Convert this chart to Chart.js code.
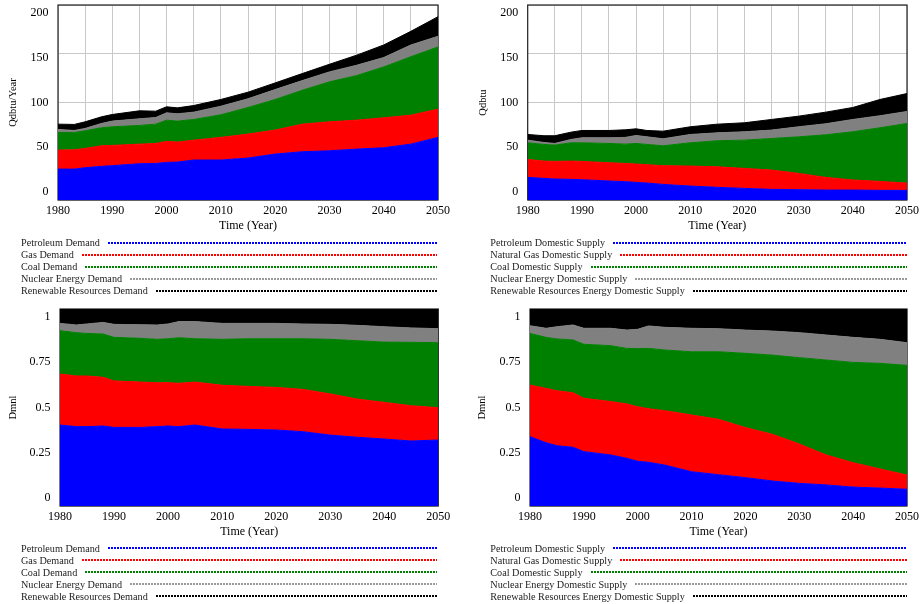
<!DOCTYPE html>
<html>
<head>
<meta charset="utf-8">
<script src="https://cdn.jsdelivr.net/npm/chart.js@4.4.1/dist/chart.umd.min.js"></script>
<style>
  body { margin: 0; background: #fff; }
  #wrap { position: relative; width: 923px; height: 604px; overflow: hidden; font-family: "Liberation Serif", "Times New Roman", serif; }
  canvas { position: absolute; }
  .legend { position: absolute; font-size: 10.2px; color: #222; }
  .row { display: flex; align-items: center; height: 12px; white-space: nowrap; }
  .dots { flex: 1; height: 2px; margin-left: 8px; }
</style>
</head>
<body>
<div id="wrap">
  <canvas id="c1" width="461" height="240" style="left:0;top:0"></canvas>
  <canvas id="c2" width="462" height="240" style="left:461px;top:0"></canvas>
  <canvas id="c3" width="461" height="304" style="left:0;top:300px"></canvas>
  <canvas id="c4" width="462" height="304" style="left:461px;top:300px"></canvas>
  <div class="legend" id="lg1" style="left:21px;top:236.7px;width:416px"></div>
  <div class="legend" id="lg2" style="left:490.3px;top:236.7px;width:416.7px"></div>
  <div class="legend" id="lg3" style="left:21px;top:542.3px;width:416px"></div>
  <div class="legend" id="lg4" style="left:490.3px;top:542.3px;width:416.7px"></div>
</div>
<script>
const years = [1980, 1983, 1985, 1988, 1990, 1995, 1998, 2000, 2002, 2005, 2010, 2015, 2020, 2025, 2030, 2035, 2040, 2045, 2050];

// Qdbtu/Year
const petroleumDemand = [31.7, 31.7, 33.1, 34.5, 35.2, 37.2, 37.5, 38.6, 38.9, 41.0, 41.0, 43.0, 47.1, 49.5, 50.5, 52.2, 53.6, 57.3, 64.2];
const gasDemand       = [19.5, 19.8, 19.8, 21.1, 20.8, 20.1, 20.5, 21.5, 20.5, 20.4, 23.2, 24.6, 24.6, 28.3, 29.7, 29.7, 30.7, 29.7, 29.0];
const coalDemand      = [18.1, 17.8, 18.1, 18.5, 19.1, 19.2, 19.8, 21.8, 21.5, 21.2, 23.2, 27.3, 31.4, 34.8, 41.0, 45.7, 52.2, 60.0, 63.8];
const nuclearDemand   = [3.1, 2.0, 2.4, 4.4, 5.8, 6.8, 6.8, 7.5, 7.5, 7.5, 8.8, 8.9, 10.2, 9.9, 10.2, 10.6, 9.6, 12.0, 10.9];
const renewableDemand = [5.4, 6.2, 6.8, 6.8, 6.8, 8.2, 6.5, 6.2, 6.1, 6.8, 6.9, 6.8, 6.8, 7.2, 7.8, 10.3, 12.9, 14.0, 20.1];

// Qdbtu
const petroleumSupply = [23.2, 22.2, 21.5, 21.2, 20.8, 19.5, 18.8, 18.1, 17.4, 16.0, 14.3, 13.0, 11.9, 10.9, 10.6, 10.2, 10.2, 9.9, 9.9];
const gasSupply       = [18.4, 17.7, 18.1, 18.7, 18.8, 18.7, 18.7, 18.8, 18.8, 19.2, 20.5, 21.1, 20.5, 19.8, 16.7, 13.0, 10.3, 9.2, 7.5];
const coalSupply      = [17.1, 17.1, 16.7, 18.8, 19.1, 19.8, 19.8, 21.1, 20.8, 20.4, 23.9, 26.7, 29.0, 32.4, 37.5, 43.7, 49.5, 55.0, 61.1];
const nuclearSupply   = [2.7, 2.0, 1.7, 3.4, 5.1, 5.8, 6.9, 8.2, 7.8, 7.2, 8.5, 8.1, 8.6, 8.6, 10.3, 11.3, 12.6, 12.3, 12.3];
const renewableSupply = [5.8, 6.9, 7.9, 7.5, 7.5, 7.5, 7.8, 6.8, 6.5, 7.8, 7.9, 8.9, 9.2, 10.9, 10.9, 11.9, 12.3, 16.7, 18.4];

// Dmnl shares
const petroleumDemandShare = [.411, .403, .403, .406, .399, .399, .403, .406, .403, .411, .391, .389, .386, .377, .360, .349, .340, .330, .335];
const gasDemandShare       = [.259, .257, .257, .247, .236, .230, .223, .220, .220, .218, .222, .218, .216, .215, .209, .194, .186, .179, .164];
const coalDemandShare      = [.220, .220, .216, .220, .221, .222, .220, .223, .231, .220, .233, .242, .247, .257, .277, .296, .306, .322, .330];
const nuclearDemandShare   = [.037, .039, .048, .059, .066, .069, .073, .075, .082, .087, .081, .078, .078, .075, .076, .078, .078, .073, .071];
const renewableDemandShare = [.073, .081, .076, .068, .078, .080, .081, .076, .064, .064, .073, .073, .073, .076, .078, .083, .090, .096, .100];

const petroleumSupplyShare = [.352, .321, .306, .298, .276, .259, .242, .227, .222, .208, .174, .159, .144, .127, .115, .107, .096, .091, .085];
const gasSupplyShare       = [.262, .276, .279, .277, .271, .271, .276, .277, .272, .276, .288, .281, .254, .237, .200, .152, .124, .097, .072];
const coalSupplyShare      = [.262, .259, .263, .268, .274, .284, .282, .295, .306, .308, .321, .343, .377, .402, .438, .482, .509, .536, .557];
const nuclearSupplyShare   = [.039, .046, .062, .076, .081, .088, .093, .098, .114, .115, .119, .117, .118, .122, .127, .127, .127, .122, .115];
const renewableSupplyShare = [.085, .098, .090, .081, .098, .098, .107, .103, .086, .093, .098, .100, .107, .112, .120, .132, .144, .154, .171];

const demandLabels = ['Petroleum Demand', 'Gas Demand', 'Coal Demand', 'Nuclear Energy Demand', 'Renewable Resources Demand'];
const supplyLabels = ['Petroleum Domestic Supply', 'Natural Gas Domestic Supply', 'Coal Domestic Supply', 'Nuclear Energy Domestic Supply', 'Renewable Resources Energy Domestic Supply'];

const fillColors = ['#0000ff', '#ff0000', '#008000', '#808080', '#000000'];
const dotColors = ['#0000ff', '#ff0000', '#008000', '#9a9a9a', '#000000'];
const serif = '"Liberation Serif", "Times New Roman", serif';

// y tick labels spread inward like the original tool does, frame round the plot
const axisLook = {
  id: 'axisLook',
  beforeDatasetsDraw(chart) {
    const { ctx, chartArea: a } = chart;
    ctx.save();
    ctx.strokeStyle = '#222';
    ctx.lineWidth = 1.2;
    ctx.strokeRect(a.left, a.top, a.right - a.left, a.bottom - a.top);
    ctx.restore();
  },
  afterDraw(chart) {
    const { ctx, chartArea: a } = chart;
    const y = chart.scales.y;
    ctx.save();
    ctx.font = '12px ' + serif;
    ctx.fillStyle = '#000';
    ctx.textAlign = 'right';
    ctx.textBaseline = 'middle';
    y.ticks.forEach(t => {
      const frac = (t.value - y.min) / (y.max - y.min);
      ctx.fillText(String(+t.value.toFixed(2)), a.left - 9.5, y.getPixelForValue(t.value) + (frac - 0.5) * 16);
    });
    ctx.restore();
  }
};

function makeChart(id, series, yTitle, yMax, yStep, pad, yWidth) {
  new Chart(document.getElementById(id), {
    type: 'line',
    data: {
      datasets: series.map((vals, i) => ({
        data: years.map((yr, k) => ({ x: yr, y: vals[k] })),
        backgroundColor: fillColors[i],
        borderColor: fillColors[i],
        borderWidth: 1,
        pointRadius: 0,
        tension: 0,
        fill: i === 0 ? 'origin' : '-1'
      }))
    },
    options: {
      responsive: false,
      animation: false,
      layout: { padding: pad },
      plugins: { legend: { display: false }, tooltip: { enabled: false } },
      scales: {
        x: {
          type: 'linear', min: 1980, max: 2050,
          grid: { color: '#c8c8c8', drawTicks: false },
          border: { display: false },
          ticks: {
            stepSize: 5, autoSkip: false, maxRotation: 0, padding: 4, color: '#000',
            font: { family: serif, size: 12 },
            callback: v => (v % 10 === 0 ? String(v) : '')
          },
          title: { display: true, text: 'Time (Year)', color: '#000', font: { family: serif, size: 12 }, padding: 0 },
          afterFit: s => { s.height = 33; }
        },
        y: {
          stacked: true, min: 0, max: yMax,
          grid: { color: '#c8c8c8', drawTicks: false },
          border: { display: false },
          ticks: { display: false, stepSize: yStep },
          title: { display: true, text: yTitle, color: '#000', font: { family: serif, size: 10.5 }, padding: 0 },
          afterFit: s => { s.width = yWidth; }
        }
      }
    },
    plugins: [axisLook]
  });
}

makeChart('c1', [petroleumDemand, gasDemand, coalDemand, nuclearDemand, renewableDemand],
  'Qdbtu/Year', 200, 50, { left: 7, top: 5, right: 23, bottom: 7 }, 51);
makeChart('c2', [petroleumSupply, gasSupply, coalSupply, nuclearSupply, renewableSupply],
  'Qdbtu', 200, 50, { left: 16, top: 5, right: 15.7, bottom: 7 }, 50.7);
makeChart('c3', [petroleumDemandShare, gasDemandShare, coalDemandShare, nuclearDemandShare, renewableDemandShare],
  'Dmnl', 1, 0.25, { left: 7, top: 9, right: 22.7, bottom: 65 }, 53);
makeChart('c4', [petroleumSupplyShare, gasSupplyShare, coalSupplyShare, nuclearSupplyShare, renewableSupplyShare],
  'Dmnl', 1, 0.25, { left: 15.4, top: 9, right: 15.7, bottom: 65 }, 53.6);

function makeLegend(id, labels) {
  const box = document.getElementById(id);
  labels.forEach((name, i) => {
    const row = document.createElement('div');
    row.className = 'row';
    row.innerHTML = `<span>${name}</span><div class="dots" style="background:repeating-linear-gradient(90deg, ${dotColors[i]} 0 2px, transparent 2px 3px)"></div>`;
    box.appendChild(row);
  });
}
makeLegend('lg1', demandLabels);
makeLegend('lg2', supplyLabels);
makeLegend('lg3', demandLabels);
makeLegend('lg4', supplyLabels);
</script>
</body>
</html>
